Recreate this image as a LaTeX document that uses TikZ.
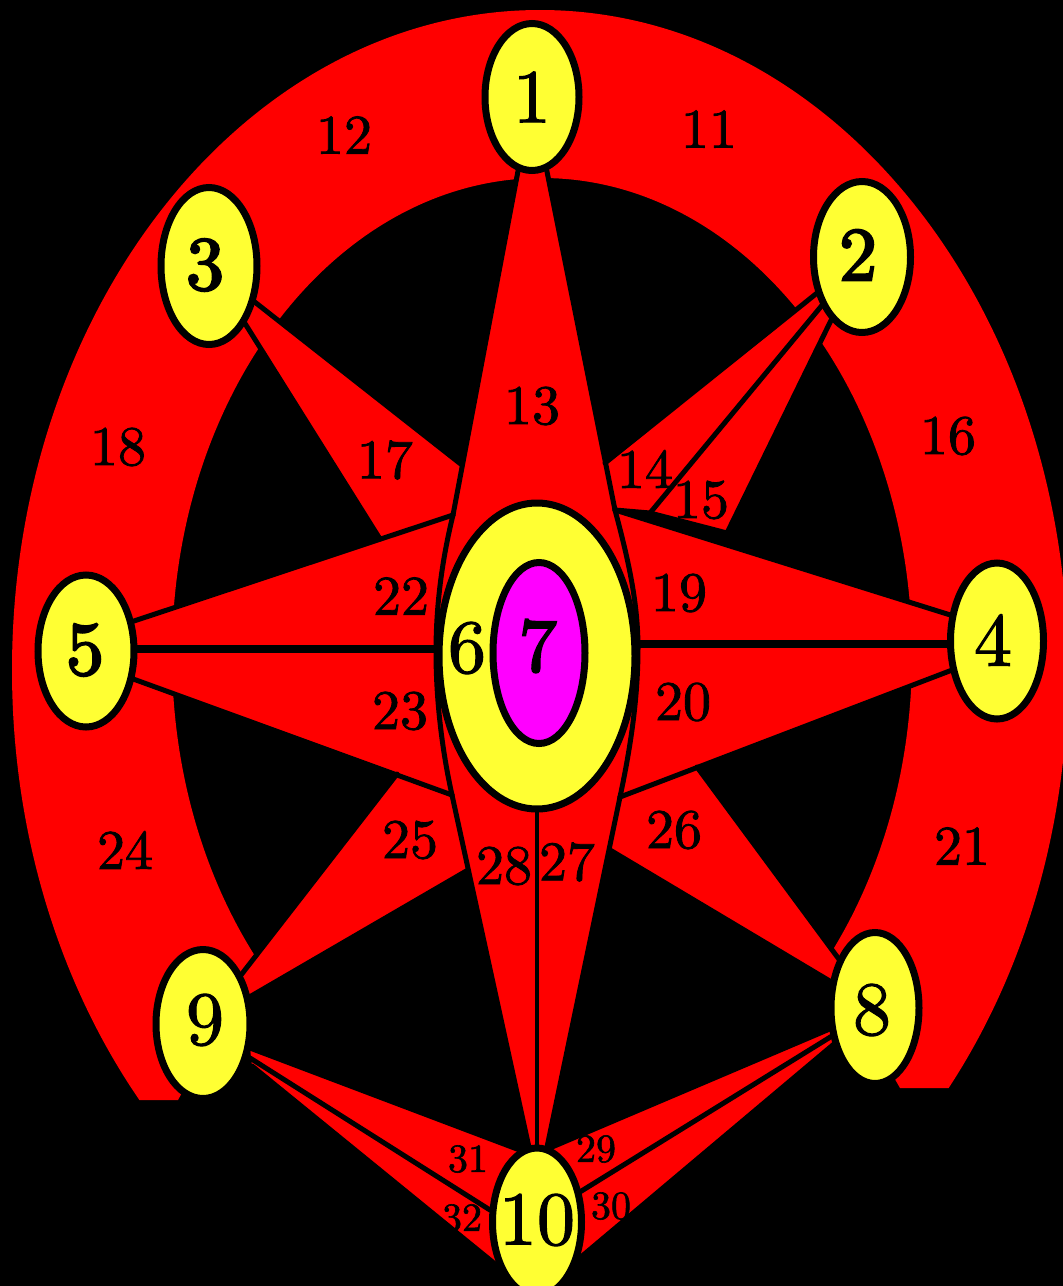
\documentclass[tikz,border=0pt]{standalone}
\usepackage{fontspec}
\newfontfamily\numfont{lmroman10-regular.otf}[FakeBold=1.5]
\newfontfamily\heavynumfont{lmroman10-regular.otf}[FakeBold=3]
\usetikzlibrary{shapes.geometric}
\definecolor{ringred}{RGB}{255,0,0}
\definecolor{nodeyellow}{RGB}{255,255,51}
\definecolor{centremagenta}{RGB}{255,0,255}
\begin{document}
\begin{tikzpicture}[x=0.75pt,y=-0.75pt,
  redface/.style={fill=ringred},
  edgeline/.style={draw=black, line width=3.75pt, line cap=round, line join=round},
  heavyline/.style={draw=black, line width=6pt},
  vline/.style={draw=black, line width=3.2pt},
  nd/.style={ellipse, draw=black, line width=5.25pt, fill=nodeyellow, inner sep=0pt, outer sep=0pt},
  numlab/.style={inner sep=0pt, font=\numfont\fontsize{57}{57}\selectfont},
  numlabb/.style={inner sep=0pt, font=\heavynumfont\fontsize{57}{57}\selectfont},
  facelab/.style={inner sep=0pt, font=\numfont\fontsize{42}{42}\selectfont},
  smalllab/.style={inner sep=0pt, font=\numfont\fontsize{30}{30}\selectfont}]
\useasboundingbox (0,0) rectangle (1063,1286);
\fill[black] (0,0) rectangle (1063,1286);
\clip (0,0) rectangle (1063,1286);

% node centres
\coordinate (c1) at (532,97);
\coordinate (c2) at (862,257);
\coordinate (c3) at (209,266);
\coordinate (c4) at (997,644);
\coordinate (c5) at (86,649);
\coordinate (c6) at (537,656);
\coordinate (c7) at (539,653);
\coordinate (c8) at (875,1008);
\coordinate (c9) at (203,1024);
\coordinate (c10) at (537,1222);

% inner vertices
\coordinate (A) at (453,515);
\coordinate (B) at (615,510);
\coordinate (C) at (620,797);
\coordinate (D) at (452,795);
\coordinate (f5u) at (125,624);
\coordinate (f5d) at (125,676);
\coordinate (f4u) at (960,618);
\coordinate (f4d) at (960,667);
\coordinate (f10l) at (530,1152);
\coordinate (f10r) at (546,1152);
\coordinate (p17a) at (462,465);
\coordinate (p17b) at (380,539);
\coordinate (p14a) at (605,463);
\coordinate (p14b) at (650,513);
\coordinate (p15) at (727,533);
\coordinate (p26a) at (697,767);
\coordinate (p26b) at (610,850);
\coordinate (p25a) at (397,774);
\coordinate (p25b) at (468,870);
\coordinate (q8a) at (832,1028);
\coordinate (q8b) at (832,1036);
\coordinate (q8c) at (834,1044);
\coordinate (r29) at (545,1150);
\coordinate (r2930) at (575,1195);
\coordinate (r30) at (575,1262);
\coordinate (q9a) at (250,1048);
\coordinate (q9b) at (250,1058);
\coordinate (q9c) at (252,1066);
\coordinate (s31) at (525,1152);
\coordinate (s3132) at (490,1210);
\coordinate (s32) at (500,1268);

% ring
\begin{scope}
\clip (0,0) -- (1063,0) -- (1063,1088) -- (900,1088) -- (826,958) -- (256,958) -- (178,1100) -- (0,1100) -- cycle;
\fill[ringred, even odd rule] (540,670) ellipse [x radius=528, y radius=660]
  (542,655) ellipse [x radius=370, y radius=477];
\end{scope}

% red faces
\fill[redface] (c1) -- (B) -- (f4u) -- (f4d) -- (C) -- (f10r) -- (f10l) -- (D) -- (f5d) -- (f5u) -- (A) -- cycle;
\fill[redface] (A) -- (p17a) -- (c3) -- (p17b) -- cycle;
\fill[redface] (c2) -- (p14a) -- (B) -- (p14b) -- cycle;
\fill[redface] (c2) -- (p14b) -- (p15) -- cycle;
\fill[redface] (C) -- (p26a) -- (c8) -- (p26b) -- cycle;
\fill[redface] (D) -- (p25a) -- (c9) -- (p25b) -- cycle;
\fill[redface] (q8a) -- (r29) -- (r2930) -- (r30) -- (q8c) -- cycle;
\fill[redface] (q9a) -- (s31) -- (s3132) -- (s32) -- (q9c) -- cycle;

% black edges
\draw[edgeline] (c1) -- (A);
\draw[edgeline] (c1) -- (B);
\draw[edgeline] (c3) -- (p17a);
\draw[edgeline] (c3) -- (p17b);
\draw[edgeline] (f5u) -- (A);
\draw[edgeline] (f5d) -- (D);
\draw[edgeline] (f4u) -- (B);
\draw[edgeline] (f4d) -- (C);
\draw[edgeline] (A) .. controls (442,560) and (436,605) .. (436,652) .. controls (436,700) and (442,750) .. (D);
\draw[edgeline] (B) .. controls (627,555) and (638,600) .. (638,648) .. controls (638,700) and (630,750) .. (C);
\draw[edgeline] (c2) -- (p14a);
\draw[edgeline] (c2) -- (p14b);
\draw[edgeline] (c2) -- (p15);
\draw[edgeline] (B) -- (p14b) -- (p15);
\draw[edgeline] (D) -- (f10l);
\draw[edgeline] (C) -- (f10r);
\draw[edgeline] (c8) -- (p26a);
\draw[edgeline] (c8) -- (p26b);
\draw[edgeline] (c9) -- (p25a);
\draw[edgeline] (c9) -- (p25b);
\draw[edgeline] (q8a) -- (r29);
\draw[edgeline] (q8b) -- (r2930);
\draw[edgeline] (q8c) -- (r30);
\draw[edgeline] (q9a) -- (s31);
\draw[edgeline] (q9b) -- (s3132);
\draw[edgeline] (q9c) -- (s32);
\draw[heavyline] (c5) -- (c5 -| c6);
\draw[heavyline] (c4) -- (c4 -| c6);
\draw[vline] (c6) -- (c10);

% nodes
\node[nd, minimum width=70.5pt, minimum height=110.25pt] (n1) at (c1) {};
\node[nd, minimum width=72.75pt, minimum height=113.25pt] (n2) at (c2) {};
\node[nd, minimum width=72pt, minimum height=117.75pt] (n3) at (c3) {};
\node[nd, minimum width=69.75pt, minimum height=117pt] (n4) at (997,641) {};
\node[nd, minimum width=72pt, minimum height=114pt] (n5) at (86,651) {};
\node[nd, minimum width=147pt, minimum height=229.5pt] (n6) at (c6) {};
\node[nd, fill=centremagenta, minimum width=69pt, minimum height=135.75pt] (n7) at (c7) {};
\node[nd, minimum width=66pt, minimum height=113.25pt] (n8) at (c8) {};
\node[nd, minimum width=70.5pt, minimum height=111.75pt] (n9) at (c9) {};
\node[nd, minimum width=66.75pt, minimum height=111pt] (n10) at (c10) {};

% node labels
\node[numlab] (t1) at (532,97) {1};
\node[numlabb] (t2) at (858,255) {2};
\node[numlabb] (t3) at (205,265) {3};
\node[numlab] (t4) at (993,640) {4};
\node[numlabb] (t5) at (85,650) {5};
\node[numlab] (t6) at (467,648) {6};
\node[numlabb] (t7) at (538,646) {7};
\node[numlab] (t8) at (872,1010) {8};
\node[numlab] (t9) at (205,1020) {9};
\node[numlab] (t10) at (537,1220) {10};

% face labels
\node[facelab] (l11) at (709,129) {11};
\node[facelab] (l12) at (344,135) {12};
\node[facelab] (l13) at (532,406) {13};
\node[facelab] (l14) at (645,469) {14};
\node[facelab] (l15) at (701,500) {15};
\node[facelab] (l16) at (948,436) {16};
\node[facelab] (l17) at (385,460) {17};
\node[facelab] (l18) at (118,447) {18};
\node[facelab] (l19) at (679,593) {19};
\node[facelab] (l20) at (683,702) {20};
\node[facelab] (l21) at (962,846) {21};
\node[facelab] (l22) at (401,596) {22};
\node[facelab] (l23) at (400,711) {23};
\node[facelab] (l24) at (125,850) {24};
\node[facelab] (l25) at (410,840) {25};
\node[facelab] (l26) at (674,830) {26};
\node[facelab] (l27) at (567,862) {27};
\node[facelab] (l28) at (504,866) {28};
\node[smalllab] (l29) at (596,1149) {29};
\node[smalllab] (l30) at (611,1206) {30};
\node[smalllab] (l31) at (468,1159) {31};
\node[smalllab] (l32) at (462,1218) {32};
\end{tikzpicture}
\end{document}
